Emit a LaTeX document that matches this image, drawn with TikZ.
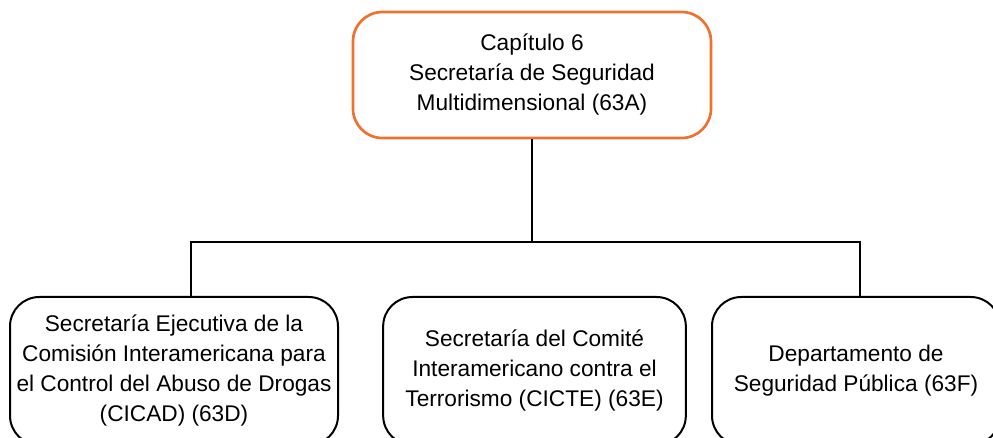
\documentclass[tikz,border=0pt]{standalone}
\usepackage{fontspec}
\setmainfont{Liberation Sans}
\usepackage{xcolor}
\definecolor{capitulo}{RGB}{240,112,48}

\begin{document}
\begin{tikzpicture}[x=0.75pt,y=-0.75pt,
		caja/.style={draw, line width=1.5pt, rounded corners=22pt, align=center, inner sep=0pt,
			font=\fontsize{17pt}{22.5pt}\selectfont},
		linea/.style={line width=1.5pt}]
		\clip (0,0) rectangle (993,438);

		\node[caja, draw=capitulo, line width=2pt, minimum width=268.5pt, minimum height=94.5pt]
			at (532,75)(cap){Capítulo 6\\Secretaría de Seguridad\\Multidimensional (63A)};

		\node[caja, minimum width=246pt, minimum height=111pt] at (174,371)(cicad)
			{Secretaría Ejecutiva de la\\Comisión Interamericana para\\el Control del Abuso de Drogas\\(CICAD) (63D)};
		\node[caja, minimum width=227pt, minimum height=111pt] at (534.5,371)(cicte)
			{Secretaría del Comité\\Interamericano contra el\\Terrorismo (CICTE) (63E)};
		\node[caja, minimum width=216pt, minimum height=111pt] at (856,371)(dsp)
			{Departamento de\\Seguridad Pública (63F)};

		\coordinate (rama) at (532,242);
		\coordinate (cicad top) at (191,297);
		\coordinate (dsp top) at (860,297);
		\draw[linea] (cap.south) -- (rama);
		\draw[linea] (cicad top) |- (rama) -| (dsp top);
	\end{tikzpicture}
\end{document}
